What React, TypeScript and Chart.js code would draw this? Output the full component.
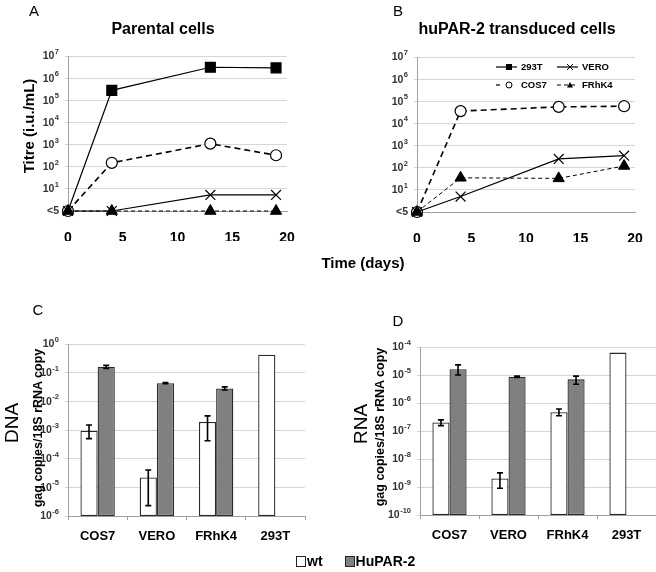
import React, { useEffect, useRef } from 'react';
import { Chart, registerables } from 'chart.js';

Chart.register(...registerables);
Chart.defaults.font.family = 'Arial, "Liberation Sans", sans-serif';

// ---------- Data ----------
// Panels A and B: titre (i.u./mL); value 1 stands for "<5" (below detection)
const days = [0, 4, 13, 19];
const parental293T = [1, 2.8e5, 3.1e6, 2.9e6];
const parentalCOS7 = [1, 150, 1100, 330];
const parentalVERO = [1, 1, 5.3, 5.3];
const parentalFRhK4 = [1, 1, 1, 1];
const transduced293T: number[] = [];
const transducedCOS7 = [1, 3.6e4, 5.6e4, 6e4];
const transducedVERO = [1, 5, 250, 350];
const transducedFRhK4 = [1, 35, 33, 120];
const titreTicks = [1, 1e1, 1e2, 1e3, 1e4, 1e5, 1e6, 1e7];

// Panels C and D
const cellLines = ['COS7', 'VERO', 'FRhK4', '293T'];
const dnaWt = [9.5e-4, 2.2e-5, 1.9e-3, 0.42];
const dnaWtLow = [5e-4, 2.3e-6, 4.2e-4, null];
const dnaWtHigh = [1.5e-3, 4e-5, 3.1e-3, null];
const dnaHu = [0.16, 0.043, 0.028, null];
const dnaHuLow = [0.14, 0.041, 0.025, null];
const dnaHuHigh = [0.18, 0.045, 0.032, null];
const dnaTicks = [1e-6, 1e-5, 1e-4, 1e-3, 1e-2, 1e-1, 1];

const rnaWt = [2e-7, 2e-9, 4.7e-7, 6.3e-5];
const rnaWtLow = [1.55e-7, 9e-10, 3.5e-7, null];
const rnaWtHigh = [2.5e-7, 3.2e-9, 6.1e-7, null];
const rnaHu = [1.6e-5, 8.7e-6, 7e-6, null];
const rnaHuLow = [1e-5, 8.2e-6, 4.7e-6, null];
const rnaHuHigh = [2.3e-5, 9.2e-6, 9.1e-6, null];
const rnaTicks = [1e-10, 1e-9, 1e-8, 1e-7, 1e-6, 1e-5, 1e-4];

// ---------- helpers ----------
const FONT = 'Arial, "Liberation Sans", sans-serif';

const logAxis = (min: number, max: number, tickValues: number[], width: number) => ({
  type: 'logarithmic',
  min,
  max,
  afterBuildTicks: (s: any) => {
    s.ticks = tickValues.map((v) => ({ value: v }));
  },
  afterFit: (s: any) => {
    s.width = width;
  },
  ticks: {
    // labels drawn by the powTicks plugin (base 10 with raised exponent)
    callback: () => '',
    autoSkip: false,
  },
  grid: { color: '#d6d6d6', tickLength: 3, lineWidth: 1 },
  border: { color: '#a0a0a0' },
});

const powTicks = {
  id: 'powTicks',
  afterDraw(chart: any, _args: any, opts: any) {
    const s = chart.scales.y;
    const ctx: CanvasRenderingContext2D = chart.ctx;
    const right = s.right - 9;
    ctx.save();
    ctx.fillStyle = '#333';
    ctx.textBaseline = 'middle';
    s.ticks.forEach((t: any) => {
      const v = t.value;
      const y = s.getPixelForValue(v);
      if (opts.titre && v === 1) {
        ctx.font = `bold 10.5px ${FONT}`;
        ctx.textAlign = 'right';
        ctx.fillText('<5', right, y);
        return;
      }
      const exp = String(Math.round(Math.log10(v)));
      ctx.font = `bold 7.5px ${FONT}`;
      const ew = ctx.measureText(exp).width;
      ctx.textAlign = 'left';
      ctx.fillText(exp, right - ew, y - 4);
      ctx.font = `bold 10.5px ${FONT}`;
      ctx.textAlign = 'right';
      ctx.fillText('10', right - ew - 0.5, y + 0.5);
    });
    ctx.restore();
  },
};

const timeAxis = () => ({
  type: 'linear',
  min: 0,
  max: 20,
  afterFit: (s: any) => {
    s.height = 30;
  },
  ticks: { stepSize: 5, color: '#000', font: { size: 14, weight: 'bold' }, padding: 11 },
  grid: { display: false },
  border: { color: '#a0a0a0' },
});

const pts = (ys: number[]) => ys.map((y, i) => ({ x: days[i], y }));

const style293T = {
  label: '293T', borderColor: '#000', borderWidth: 1.2, pointStyle: 'rect',
  // the day-0 marker sits hidden behind the other series' markers
  pointRadius: (c: any) => (c.dataIndex === 0 ? 0 : 7),
  pointBackgroundColor: '#000', pointBorderColor: '#000', clip: false,
};
const styleCOS7 = {
  label: 'COS7', borderColor: '#000', borderWidth: 1.6, borderDash: [6, 4], pointStyle: 'circle', pointRadius: 5.5,
  pointBackgroundColor: '#fff', pointBorderColor: '#000', pointBorderWidth: 1.2, clip: false,
};
const styleVERO = {
  label: 'VERO', borderColor: '#000', borderWidth: 1.2, pointStyle: 'crossRot', pointRadius: 7,
  pointBackgroundColor: '#000', pointBorderColor: '#000', pointBorderWidth: 1.2, clip: false,
};
const styleFRhK4 = {
  label: 'FRhK4', borderColor: '#000', borderWidth: 1, borderDash: [4, 3], pointStyle: 'triangle', pointRadius: 6.5,
  pointBackgroundColor: '#000', pointBorderColor: '#000', clip: false,
};

function drawMarker(ctx: CanvasRenderingContext2D, style: string, x: number, y: number, r: number, fill: string) {
  ctx.save();
  ctx.beginPath();
  ctx.strokeStyle = '#000';
  ctx.lineWidth = 1;
  ctx.fillStyle = fill;
  if (style === 'rect') {
    ctx.rect(x - r, y - r, 2 * r, 2 * r);
    ctx.fill();
  } else if (style === 'circle') {
    ctx.arc(x, y, r, 0, Math.PI * 2);
    ctx.fill();
    ctx.stroke();
  } else if (style === 'crossRot') {
    ctx.moveTo(x - r, y - r);
    ctx.lineTo(x + r, y + r);
    ctx.moveTo(x + r, y - r);
    ctx.lineTo(x - r, y + r);
    ctx.stroke();
  } else if (style === 'triangle') {
    ctx.moveTo(x, y - r);
    ctx.lineTo(x + r, y + r * 0.8);
    ctx.lineTo(x - r, y + r * 0.8);
    ctx.closePath();
    ctx.fill();
  }
  ctx.restore();
}

const legendB = {
  id: 'legendB',
  afterDraw(chart: any) {
    const ctx: CanvasRenderingContext2D = chart.ctx;
    const a = chart.chartArea;
    const items = chart.data.datasets;
    const col0 = a.left + 79;
    const col1 = a.left + 140;
    const rows = [a.top + 10, a.top + 28];
    ctx.save();
    ctx.font = `bold 9.5px ${FONT}`;
    ctx.textBaseline = 'middle';
    ctx.fillStyle = '#000';
    const place: Record<string, [number, number]> = {
      '293T': [col0, rows[0]], VERO: [col1, rows[0]], COS7: [col0, rows[1]], FRhK4: [col1, rows[1]],
    };
    items.forEach((ds: any) => {
      const p = place[ds.label];
      if (!p) return;
      const [x, y] = p;
      ctx.save();
      ctx.strokeStyle = '#000';
      ctx.lineWidth = 1.2;
      ctx.setLineDash(ds.borderDash ? [4, 3] : []);
      ctx.beginPath();
      if (ds.label === 'COS7') {
        ctx.moveTo(x, y);
        ctx.lineTo(x + 6, y);
      } else {
        ctx.moveTo(x, y);
        ctx.lineTo(x + 21, y);
      }
      ctx.stroke();
      ctx.restore();
      drawMarker(ctx, ds.pointStyle, x + 13, y, 3, ds.pointBackgroundColor);
      ctx.fillText(ds.label, x + 25, y + 0.5);
    });
    ctx.restore();
  },
};

const errorBars = {
  id: 'errorBars',
  afterDatasetsDraw(chart: any) {
    const ctx: CanvasRenderingContext2D = chart.ctx;
    const y = chart.scales.y;
    chart.data.datasets.forEach((ds: any, i: number) => {
      const meta = chart.getDatasetMeta(i);
      meta.data.forEach((el: any, j: number) => {
        const lo = ds.errLow?.[j];
        const hi = ds.errHigh?.[j];
        if (lo == null || hi == null) return;
        const x = el.x;
        const y1 = y.getPixelForValue(lo);
        const y2 = y.getPixelForValue(hi);
        ctx.save();
        ctx.strokeStyle = '#000';
        ctx.lineWidth = 1.6;
        ctx.beginPath();
        ctx.moveTo(x, y1);
        ctx.lineTo(x, y2);
        ctx.moveTo(x - 3, y1);
        ctx.lineTo(x + 3, y1);
        ctx.moveTo(x - 3, y2);
        ctx.lineTo(x + 3, y2);
        ctx.stroke();
        ctx.restore();
      });
    });
  },
};

const lineConfig = (sets: any[], padding: any, yWidth: number, extraPlugins: any[] = []) => ({
  type: 'line',
  data: { datasets: sets },
  options: {
    animation: false,
    responsive: false,
    layout: { padding },
    plugins: { legend: { display: false }, tooltip: { enabled: false }, powTicks: { titre: true } },
    elements: { line: { tension: 0 } },
    scales: {
      x: timeAxis(),
      y: logAxis(1, 1e7, titreTicks, yWidth),
    },
  },
  plugins: [powTicks, ...extraPlugins],
});

const barConfig = (
  wt: any[], wtLo: any[], wtHi: any[], hu: any[], huLo: any[], huHi: any[],
  min: number, max: number, ticks: number[], padding: any, yWidth: number,
) => ({
  type: 'bar',
  data: {
    labels: cellLines,
    datasets: [
      {
        label: 'wt', data: wt, errLow: wtLo, errHigh: wtHi, backgroundColor: '#ffffff', borderColor: '#2a2a2a',
        borderWidth: 1.3, borderSkipped: false, categoryPercentage: 0.58, barPercentage: 1,
      },
      {
        label: 'HuPAR-2', data: hu, errLow: huLo, errHigh: huHi, backgroundColor: '#808080', borderColor: '#2a2a2a',
        borderWidth: 1.3, borderSkipped: false, categoryPercentage: 0.58, barPercentage: 1,
      },
    ],
  },
  options: {
    animation: false,
    responsive: false,
    layout: { padding },
    plugins: { legend: { display: false }, tooltip: { enabled: false }, powTicks: { titre: false } },
    scales: {
      x: {
        afterFit: (s: any) => {
          s.height = 32;
        },
        ticks: { color: '#000', font: { size: 13, weight: 'bold' }, padding: 9 },
        grid: { offset: true, drawOnChartArea: false, tickLength: 4, color: '#a0a0a0' },
        border: { color: '#a0a0a0' },
      },
      y: logAxis(min, max, ticks, yWidth),
    },
  },
  plugins: [errorBars, powTicks],
});

function ChartCanvas({ make, left, top, width, height }: any) {
  const ref = useRef<HTMLCanvasElement>(null);
  useEffect(() => {
    const chart = new Chart(ref.current as HTMLCanvasElement, make());
    return () => chart.destroy();
  }, []);
  return (
    <canvas
      ref={ref}
      width={width}
      height={height}
      style={{ position: 'absolute', left, top, width, height, display: 'block' }}
    />
  );
}

function Label({ x, y, text, size, weight = 'bold', rotate = false }: any) {
  return (
    <div
      style={{
        position: 'absolute',
        left: x,
        top: y,
        transform: `translate(-50%, -50%)${rotate ? ' rotate(-90deg)' : ''}`,
        fontSize: size,
        fontWeight: weight,
        whiteSpace: 'nowrap',
        lineHeight: 1,
        color: '#000',
      }}
    >
      {text}
    </div>
  );
}

export default function App() {
  return (
    <div
      style={{
        position: 'absolute',
        left: 0,
        top: 0,
        width: 656,
        height: 572,
        background: '#fff',
        fontFamily: FONT,
        overflow: 'hidden',
      }}
    >
      <ChartCanvas
        left={0}
        top={0}
        width={320}
        height={250}
        make={() =>
          lineConfig(
            [
              { ...styleFRhK4, data: pts(parentalFRhK4) },
              { ...styleVERO, data: pts(parentalVERO) },
              { ...style293T, data: pts(parental293T) },
              { ...styleCOS7, data: pts(parentalCOS7) },
            ],
            { top: 56, right: 33, bottom: 9, left: 0 },
            68,
          )
        }
      />
      <ChartCanvas
        left={320}
        top={0}
        width={336}
        height={250}
        make={() =>
          lineConfig(
            [
              { ...styleFRhK4, data: pts(transducedFRhK4) },
              { ...styleVERO, data: pts(transducedVERO) },
              { ...style293T, data: pts(transduced293T) },
              { ...styleCOS7, data: pts(transducedCOS7) },
            ],
            { top: 57, right: 21, bottom: 8, left: 0 },
            97,
            [legendB],
          )
        }
      />
      <ChartCanvas
        left={0}
        top={290}
        width={320}
        height={270}
        make={() =>
          barConfig(dnaWt, dnaWtLow, dnaWtHigh, dnaHu, dnaHuLow, dnaHuHigh, 1e-6, 1, dnaTicks,
            { top: 54, right: 15, bottom: 12, left: 0 }, 68)
        }
      />
      <ChartCanvas
        left={320}
        top={290}
        width={336}
        height={270}
        make={() =>
          barConfig(rnaWt, rnaWtLow, rnaWtHigh, rnaHu, rnaHuLow, rnaHuHigh, 1e-10, 1e-4, rnaTicks,
            { top: 57, right: 0, bottom: 13, left: 0 }, 100)
        }
      />

      <Label x={34} y={10} text="A" size={15} weight="normal" />
      <Label x={398} y={10} text="B" size={15} weight="normal" />
      <Label x={38} y={309} text="C" size={15} weight="normal" />
      <Label x={398} y={320} text="D" size={15} weight="normal" />

      <Label x={163} y={29} text="Parental cells" size={16} />
      <Label x={517} y={29} text="huPAR-2 transduced cells" size={16} />
      <Label x={28} y={126} text="Titre (i.u./mL)" size={15} rotate />
      <Label x={363} y={262} text="Time (days)" size={15} />

      <Label x={11} y={423} text="DNA" size={19} weight="normal" rotate />
      <Label x={38} y={428} text="gag copies/18S rRNA copy" size={12.5} rotate />
      <Label x={360} y={424} text="RNA" size={19} weight="normal" rotate />
      <Label x={380} y={427} text="gag copies/18S rRNA copy" size={12.5} rotate />

      <div
        style={{
          position: 'absolute',
          left: 296,
          top: 554,
          display: 'flex',
          alignItems: 'center',
          fontSize: 14,
          fontWeight: 'bold',
          lineHeight: 1,
        }}
      >
        <span style={{ width: 8, height: 9, border: '1.5px solid #222', background: '#fff', display: 'inline-block' }} />
        <span style={{ marginLeft: 1 }}>wt</span>
        <span
          style={{
            width: 8,
            height: 9,
            border: '1.5px solid #222',
            background: '#808080',
            display: 'inline-block',
            marginLeft: 22,
          }}
        />
        <span style={{ marginLeft: 1 }}>HuPAR-2</span>
      </div>
    </div>
  );
}
